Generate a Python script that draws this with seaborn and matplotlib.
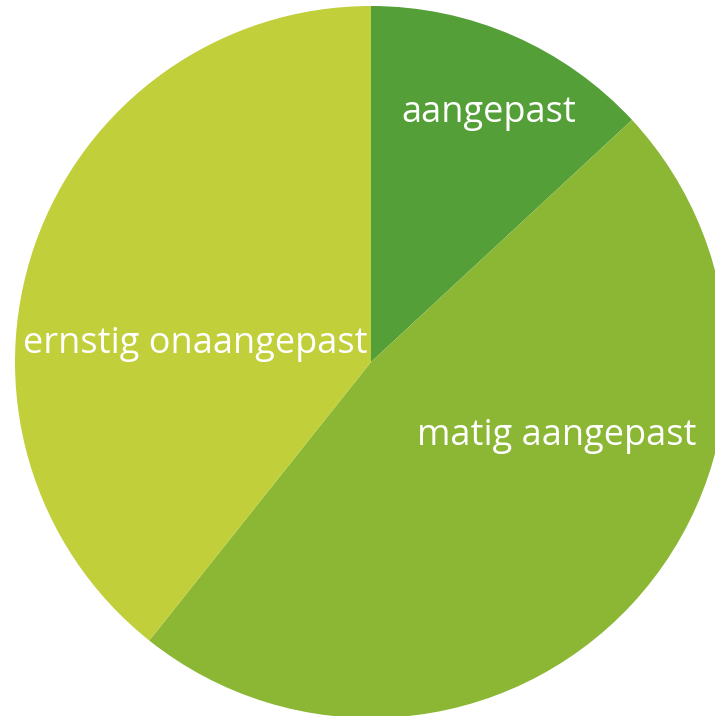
import matplotlib
matplotlib.use("Agg")
import matplotlib.pyplot as plt
import seaborn as sns

# slice data (share of respondents)
categories = ["aangepast", "matig aangepast", "ernstig onaangepast"]
shares = [13.1, 47.6, 39.3]
colors = ["#549F38", "#8BB734", "#C0CF3A"]

# label anchor points (pixels, origin bottom-left)
label_pos = [(489, 603), (557, 280), (195, 372)]

sns.set_theme(style="white")
plt.rcParams["font.family"] = ["Open Sans", "DejaVu Sans"]

fig = plt.figure(figsize=(7.15, 7.16), dpi=100)
ax = fig.add_axes([0, 0, 1, 1])

wedges, texts = ax.pie(
    shares,
    colors=colors,
    startangle=90,
    counterclock=False,
    radius=356,
    center=(371, 354),
    labels=categories,
    labeldistance=0.7,
    frame=True,
    wedgeprops=dict(linewidth=0),
)
for t, (x, y) in zip(texts, label_pos):
    t.set_position((x, y))
    t.set_ha("center")
    t.set_va("center")
    t.set_color("white")
    t.set_fontsize(26)

ax.set_xlim(0, 715)
ax.set_ylim(0, 716)
ax.set_aspect("equal")
ax.axis("off")

fig.savefig("out.png", dpi=100, facecolor="white")
